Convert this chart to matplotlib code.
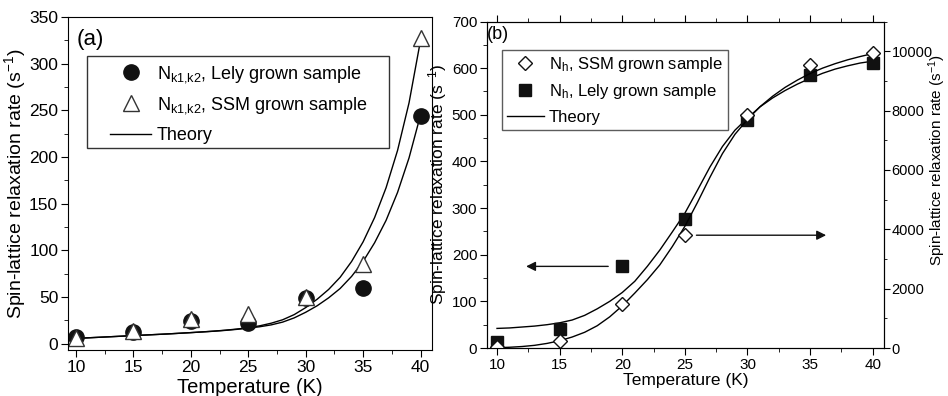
import matplotlib
matplotlib.use("Agg")
import matplotlib.pyplot as plt
from matplotlib.patches import Rectangle
from matplotlib.ticker import MultipleLocator

plt.rcParams['font.family'] = ['Liberation Sans', 'DejaVu Sans']
plt.rcParams['mathtext.fontset'] = 'custom'
plt.rcParams['mathtext.rm'] = 'Liberation Sans'

# measured points
temps = [10, 15, 20, 25, 30, 35, 40]
a_lely = [7, 12, 24, 22, 49, 60, 244]
a_ssm = [6, 13, 26, 32, 50, 85, 328]
b_lely = [13, 40, 175, 276, 489, 586, 612]        # left axis
b_ssm = [30, 236, 1470, 3795, 7835, 9540, 9945]   # right axis

# theory curves, every 1 K
theory_t = list(range(10, 41))
a_theory_ssm = [5.5, 6.1, 6.7, 7.3, 7.9, 8.5, 9.1, 9.7, 10.3, 11.0, 11.7,
                12.5, 13.3, 14.3, 15.5, 17.0, 19.0, 21.8, 25.5, 31.0, 38.5,
                47.5, 58, 71, 88, 109, 135, 167, 207, 258, 325]
a_theory_lely = [5.5, 6.1, 6.7, 7.3, 7.9, 8.5, 9.1, 9.7, 10.3, 11.0, 11.7,
                 12.4, 13.2, 14.1, 15.2, 16.5, 18.0, 20.0, 23.0, 27.5, 33.5,
                 40.5, 49, 59, 72, 88, 108, 132, 162, 199, 245]
b_theory_lely = [42, 43, 45, 47, 50, 54, 60, 70, 84, 100, 119, 143, 175, 210,
                 249, 289, 338, 388, 432, 467, 493, 517, 536, 552, 566, 578,
                 589, 598, 605, 611, 615]
b_theory_ssm = [10, 25, 50, 90, 155, 245, 370, 530, 750, 1050, 1420, 1850,
                2300, 2800, 3420, 4100, 4900, 5750, 6550, 7200, 7700, 8130,
                8480, 8780, 9030, 9250, 9430, 9580, 9710, 9820, 9920]

ylab = r'Spin-lattice relaxation rate (s$\mathregular{^{-1}}$)'

fig = plt.figure(figsize=(9.48, 3.96), dpi=100)

# ---------- panel (a) ----------
ax = fig.add_axes([0.0717, 0.116, 0.384, 0.841])
ax.plot(theory_t, a_theory_ssm, color='k', lw=1.0)
ax.plot(theory_t, a_theory_lely, color='k', lw=1.0, label='Theory')
ax.plot(temps, a_lely, 'o', color='#111111', ms=11, ls='none',
        label=r'$\mathregular{N_{k1{,}k2}}$, Lely grown sample')
ax.plot(temps, a_ssm, '^', mfc='white', mec='#333333', mew=1.0, ms=12, ls='none',
        label=r'$\mathregular{N_{k1{,}k2}}$, SSM grown sample')
ax.set_xlim(9.3, 41)
ax.set_ylim(-7, 350)
ax.xaxis.set_major_locator(MultipleLocator(5))
ax.xaxis.set_minor_locator(MultipleLocator(2.5))
ax.yaxis.set_major_locator(MultipleLocator(50))
ax.yaxis.set_minor_locator(MultipleLocator(25))
ax.tick_params(which='major', direction='out', length=5, labelsize=12.5, pad=2)
ax.tick_params(which='minor', direction='out', length=3)
ax.set_xlabel('Temperature (K)', fontsize=14.5, labelpad=2)
ax.set_ylabel(ylab, fontsize=14, labelpad=1)
ax.text(0.025, 0.965, '(a)', transform=ax.transAxes, fontsize=16,
        va='top', ha='left')
h, l = ax.get_legend_handles_labels()
order = [1, 2, 0]
leg = ax.legend([h[i] for i in order], [l[i] for i in order],
                loc='upper left', bbox_to_anchor=(0.115, 0.86), fontsize=13,
                frameon=False, handlelength=2.3, handletextpad=0.3,
                labelspacing=0.6, borderpad=0, borderaxespad=0)
# legend box drawn separately, it is wider than the entries
ax.add_patch(Rectangle((0.052, 0.607), 0.83, 0.276, transform=ax.transAxes,
                       fill=False, ec='#333333', lw=1.0, zorder=5))

# ---------- panel (b) ----------
bx = fig.add_axes([0.5137, 0.1212, 0.4188, 0.8245])
bx2 = bx.twinx()
bx.plot(theory_t, b_theory_lely, color='k', lw=1.0)
bx2.plot(theory_t, b_theory_ssm, color='k', lw=1.0)
bx.plot(temps, b_lely, 's', color='#111111', ms=8, ls='none')
bx2.plot(temps, b_ssm, 'D', mfc='white', mec='#111111', mew=1.0, ms=7, ls='none')
bx.set_xlim(9.2, 40.9)
bx.set_ylim(0, 700)
bx2.set_ylim(0, 11000)
bx.xaxis.set_major_locator(MultipleLocator(5))
bx.xaxis.set_minor_locator(MultipleLocator(2.5))
bx.yaxis.set_major_locator(MultipleLocator(100))
bx.yaxis.set_minor_locator(MultipleLocator(50))
bx2.yaxis.set_major_locator(MultipleLocator(2000))
bx2.yaxis.set_minor_locator(MultipleLocator(1000))
bx.tick_params(which='major', direction='out', length=5, labelsize=11, pad=2)
bx.tick_params(which='minor', direction='out', length=3)
bx2.tick_params(which='major', direction='out', length=4, labelsize=10.5, pad=1.5)
bx2.tick_params(which='minor', direction='out', length=2.5)
bx.tick_params(axis='x', which='both', top=True)
bx.set_xlabel('Temperature (K)', fontsize=12.5, labelpad=1)
bx.set_ylabel(ylab, fontsize=12.5, labelpad=2)
bx2.set_ylabel(ylab, fontsize=11)
bx2.yaxis.set_label_coords(1.108, 0.575)
bx.text(0.0, 0.985, '(b)', transform=bx.transAxes, fontsize=13,
        va='top', ha='left')

# arrows telling which axis each data set belongs to
bx.annotate('', xy=(12.1, 175), xytext=(19.1, 175),
            arrowprops=dict(arrowstyle='-|>', color='#111111', lw=1.0,
                            mutation_scale=14))
bx2.annotate('', xy=(36.5, 3800), xytext=(25.7, 3800),
             arrowprops=dict(arrowstyle='-|>', color='#111111', lw=1.0,
                             mutation_scale=14))

hd = plt.Line2D([], [], marker='D', mfc='white', mec='#111111', ms=7, ls='none')
hs = plt.Line2D([], [], marker='s', color='#111111', ms=8, ls='none')
hl = plt.Line2D([], [], color='k', lw=1.0)
leg2 = bx.legend([hd, hs, hl],
                 [r'$\mathregular{N_h}$, SSM grown sample',
                  r'$\mathregular{N_h}$, Lely grown sample', 'Theory'],
                 loc='upper left', bbox_to_anchor=(0.038, 0.913), fontsize=12,
                 frameon=True, fancybox=False, edgecolor='#333333',
                 handlelength=2.2, handletextpad=0.3, labelspacing=0.5,
                 borderpad=0.3, borderaxespad=0)
leg2.get_frame().set_linewidth(1.0)

fig.savefig('out.png', dpi=100)
